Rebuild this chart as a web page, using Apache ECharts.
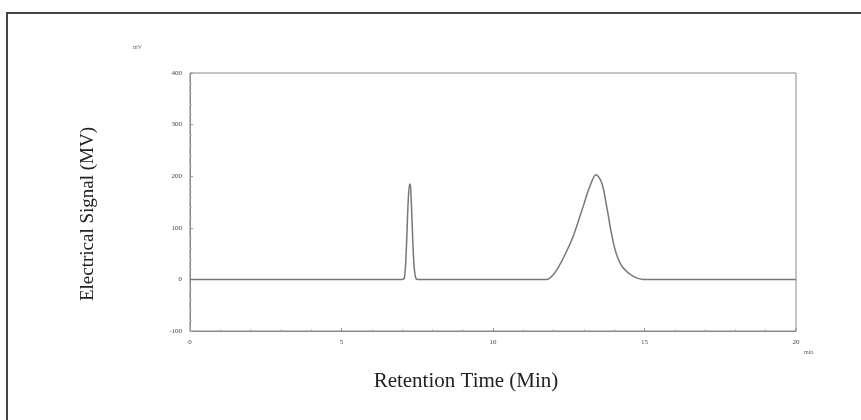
<!DOCTYPE html>
<html>
<head>
<meta charset="utf-8">
<script src="https://cdn.jsdelivr.net/npm/echarts@6/dist/echarts.min.js"></script>
<style>
  html, body { margin: 0; padding: 0; background: #fff; }
  #chart { width: 861px; height: 420px; }
</style>
</head>
<body>
<div id="chart"></div>
<script>
// Chromatogram trace: retention time (min) and detector signal (mV)
const retentionTime = [0, 7.0, 7.08, 7.14, 7.2, 7.25, 7.28, 7.33, 7.38, 7.44, 7.52,
  11.77, 12.0, 12.21, 12.45, 12.65, 12.98, 13.2, 13.4, 13.59, 13.75, 13.92, 14.08, 14.3, 14.63, 14.96, 20];
const signal = [0, 0, 5, 60, 150, 185, 180, 110, 40, 5, 0,
  0, 10, 29, 57, 84, 142, 181, 203, 187, 142, 86, 48, 22, 6, 0, 0];

const xTicks = [0, 5, 10, 15, 20];
const yTicks = [-100, 0, 100, 200, 300, 400];

const xTitle = 'Retention Time (Min)';
const yTitle = 'Electrical Signal (MV)';

const points = retentionTime.map((t, i) => [t, signal[i]]);

const serif = '"Liberation Serif", "DejaVu Serif", serif';
const chart = echarts.init(document.getElementById('chart'), null, { renderer: 'canvas' });

chart.setOption({
  animation: false,
  backgroundColor: '#ffffff',
  grid: {
    left: 190, right: 65, top: 73, bottom: 89,
    show: true, borderColor: '#888', borderWidth: 1
  },
  xAxis: {
    type: 'value',
    min: xTicks[0], max: xTicks[xTicks.length - 1], interval: 5,
    axisLine: { onZero: false, lineStyle: { color: '#888', width: 1 } },
    axisTick: { inside: true, length: 3, lineStyle: { color: '#999' } },
    minorTick: { show: true, splitNumber: 5, length: 2, lineStyle: { color: '#bbb' } },
    splitLine: { show: false },
    axisLabel: { fontFamily: serif, fontSize: 7, color: '#444', margin: 8 }
  },
  yAxis: {
    type: 'value',
    min: yTicks[0], max: yTicks[yTicks.length - 1], interval: 100,
    axisLine: { show: true, lineStyle: { color: '#888', width: 1 } },
    axisTick: { inside: true, length: 3, lineStyle: { color: '#999' } },
    minorTick: { show: true, splitNumber: 5, length: 2, lineStyle: { color: '#bbb' } },
    splitLine: { show: false },
    axisLabel: { fontFamily: serif, fontSize: 7, color: '#444', margin: 8 }
  },
  graphic: [
    {
      type: 'rect', silent: true,
      shape: { x: 7, y: 13, width: 870, height: 430 },
      style: { fill: 'none', stroke: '#444', lineWidth: 2 }
    },
    {
      type: 'text', x: 466, y: 381,
      style: { text: xTitle, fontFamily: serif, fontSize: 21, fill: '#222',
               align: 'center', verticalAlign: 'middle' }
    },
    {
      type: 'text', x: 88, y: 214, rotation: Math.PI / 2,
      style: { text: yTitle, fontFamily: serif, fontSize: 19, fill: '#222',
               align: 'center', verticalAlign: 'middle' }
    },
    {
      type: 'text', left: 133, top: 44,
      style: { text: 'mV', fontFamily: serif, fontSize: 6, fill: '#666' }
    },
    {
      type: 'text', left: 804, top: 349,
      style: { text: 'min', fontFamily: serif, fontSize: 6, fill: '#666' }
    }
  ],
  series: [{
    type: 'line',
    data: points,
    smooth: 0.35,
    symbol: 'none',
    lineStyle: { color: '#777', width: 1.5 }
  }]
});
</script>
</body>
</html>
